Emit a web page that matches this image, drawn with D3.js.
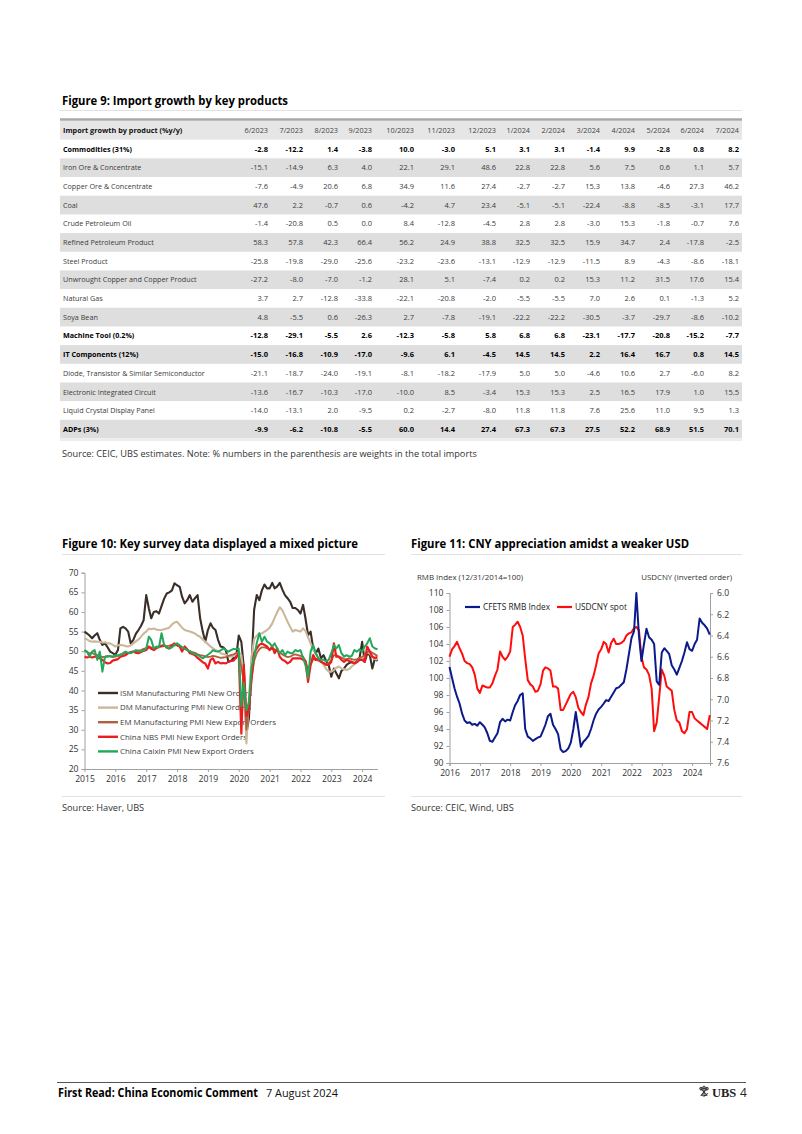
<!DOCTYPE html>
<html><head><meta charset="utf-8">
<script src="https://cdn.jsdelivr.net/npm/d3@7"></script>
<style>
body{margin:0;background:#fff;}
svg{display:block;}
</style>
</head><body>
<svg id="page" width="802" height="1134"></svg>
<script>
// ---------------- Figure 9 data ----------------
const tableHeader = "Import growth by product (%y/y)";
const tableColumns = ["6/2023","7/2023","8/2023","9/2023","10/2023","11/2023","12/2023","1/2024","2/2024","3/2024","4/2024","5/2024","6/2024","7/2024"];
const tableRows = ["Commodities (31%)","Iron Ore & Concentrate","Copper Ore & Concentrate","Coal","Crude Petroleum Oil","Refined Petroleum Product","Steel Product","Unwrought Copper and Copper Product","Natural Gas","Soya Bean","Machine Tool (0.2%)","IT Components (12%)","Diode, Transistor & Similar Semiconductor","Electronic Integrated Circuit","Liquid Crystal Display Panel","ADPs (3%)"];
const boldRows = ["Commodities (31%)","Machine Tool (0.2%)","IT Components (12%)","ADPs (3%)"];
const commodities = [-2.8,-12.2,1.4,-3.8,10.0,-3.0,5.1,3.1,3.1,-1.4,9.9,-2.8,0.8,8.2];
const ironOre = [-15.1,-14.9,6.3,4.0,22.1,29.1,48.6,22.8,22.8,5.6,7.5,0.6,1.1,5.7];
const copperOre = [-7.6,-4.9,20.6,6.8,34.9,11.6,27.4,-2.7,-2.7,15.3,13.8,-4.6,27.3,46.2];
const coal = [47.6,2.2,-0.7,0.6,-4.2,4.7,23.4,-5.1,-5.1,-22.4,-8.8,-8.5,-3.1,17.7];
const crudeOil = [-1.4,-20.8,0.5,0.0,8.4,-12.8,-4.5,2.8,2.8,-3.0,15.3,-1.8,-0.7,7.6];
const refinedOil = [58.3,57.8,42.3,66.4,56.2,24.9,38.8,32.5,32.5,15.9,34.7,2.4,-17.8,-2.5];
const steel = [-25.8,-19.8,-29.0,-25.6,-23.2,-23.6,-13.1,-12.9,-12.9,-11.5,8.9,-4.3,-8.6,-18.1];
const unwroughtCopper = [-27.2,-8.0,-7.0,-1.2,28.1,5.1,-7.4,0.2,0.2,15.3,11.2,31.5,17.6,15.4];
const naturalGas = [3.7,2.7,-12.8,-33.8,-22.1,-20.8,-2.0,-5.5,-5.5,7.0,2.6,0.1,-1.3,5.2];
const soyaBean = [4.8,-5.5,0.6,-26.3,2.7,-7.8,-19.1,-22.2,-22.2,-30.5,-3.7,-29.7,-8.6,-10.2];
const machineTool = [-12.8,-29.1,-5.5,2.6,-12.3,-5.8,5.8,6.8,6.8,-23.1,-17.7,-20.8,-15.2,-7.7];
const itComponents = [-15.0,-16.8,-10.9,-17.0,-9.6,6.1,-4.5,14.5,14.5,2.2,16.4,16.7,0.8,14.5];
const diode = [-21.1,-18.7,-24.0,-19.1,-8.1,-18.2,-17.9,5.0,5.0,-4.6,10.6,2.7,-6.0,8.2];
const integratedCircuit = [-13.6,-16.7,-10.3,-17.0,-10.0,8.5,-3.4,15.3,15.3,2.5,16.5,17.9,1.0,15.5];
const lcdPanel = [-14.0,-13.1,2.0,-9.5,0.2,-2.7,-8.0,11.8,11.8,7.6,25.6,11.0,9.5,1.3];
const adps = [-9.9,-6.2,-10.8,-5.5,60.0,14.4,27.4,67.3,67.3,27.5,52.2,68.9,51.5,70.1];

// ---------------- Figure 10 data (monthly, Jan 2015 - Jul 2024) ----------------
const pmiYears = ["2015","2016","2017","2018","2019","2020","2021","2022","2023","2024"];
const pmiLegend = ["ISM Manufacturing PMI New Orders","DM Manufacturing PMI New Orders","EM Manufacturing PMI New Export Orders","China NBS PMI New Export Orders","China Caixin PMI New Export Orders"];
const ismNewOrders = [
 55.0,54.5,54.0,53.3,54.0,54.6,52.9,51.6,52.0,51.0,49.9,49.5,
 49.1,50.3,55.8,56.2,55.8,55.0,52.0,52.9,54.5,55.4,56.5,57.9,
 64.3,60.9,58.4,60.0,60.2,59.6,61.5,63.4,64.7,65.0,65.5,67.3,
 66.8,66.4,63.9,62.2,63.0,64.3,62.6,63.5,64.3,58.4,55.0,52.4,
 55.4,57.1,56.0,55.4,52.9,51.2,51.0,50.3,47.3,47.5,48.3,48.3,
 54.0,52.4,46.0,29.0,33.0,46.5,60.5,64.3,63.0,65.5,67.0,66.0,
 66.0,67.4,66.0,66.5,67.4,65.7,64.3,63.5,62.6,61.0,61.0,60.5,
 59.6,61.8,58.4,54.1,55.0,50.7,49.4,50.7,48.2,49.0,47.5,46.5,
 43.5,45.6,44.4,43.1,45.0,45.6,46.5,47.0,47.3,46.9,47.5,48.2,
 52.4,47.3,49.4,49.0,45.6,48.2,47.5];
const dmNewOrders = [
 53.3,53.0,52.6,52.4,52.5,52.4,52.4,52.2,52.3,52.0,52.0,51.6,
 51.2,51.5,51.6,51.5,51.3,51.2,51.5,52.0,52.5,53.0,53.7,54.5,
 55.0,55.8,55.6,55.8,55.5,55.4,55.4,55.6,55.8,56.0,56.8,57.3,
 57.5,56.7,56.0,55.4,55.2,55.0,54.8,54.5,54.0,53.7,53.0,52.4,
 51.8,51.2,50.8,50.3,50.0,49.5,49.3,49.1,48.8,48.6,48.8,49.3,
 49.8,49.0,44.0,26.5,38.0,48.5,53.0,54.0,54.5,54.5,55.0,55.4,
 56.0,57.1,58.5,60.0,61.2,60.4,59.0,57.5,56.2,55.0,55.4,55.2,
 55.0,55.8,55.2,53.5,52.0,50.3,49.5,48.2,47.5,46.5,45.5,44.8,
 44.8,45.2,45.8,46.1,45.6,45.4,45.2,45.5,46.1,46.7,47.3,47.8,
 48.2,48.8,49.8,49.4,48.6,48.0,47.8];
const emExportOrders = [
 50.0,49.8,49.5,49.6,49.2,49.0,48.8,48.5,48.6,48.8,48.7,48.5,
 48.6,48.8,49.2,49.3,49.5,49.6,49.8,49.9,50.0,50.2,50.3,50.6,
 50.8,51.0,51.0,50.8,50.9,51.0,51.2,51.3,51.3,51.4,51.6,51.5,
 51.5,51.2,51.0,50.6,50.3,50.0,49.8,49.6,49.2,49.0,48.9,48.7,
 48.5,48.6,48.8,48.7,48.5,48.3,48.4,48.5,48.8,49.0,49.2,49.5,
 49.6,46.0,42.0,30.0,36.0,43.0,47.5,49.5,50.5,51.0,51.0,50.8,
 50.5,50.6,50.5,50.0,49.6,49.2,48.8,48.5,48.6,49.0,49.2,49.0,
 48.8,48.6,47.5,45.5,46.5,48.0,47.8,47.6,47.3,47.0,46.8,47.0,
 47.6,49.0,49.0,48.6,48.4,48.0,48.0,48.2,48.0,47.8,48.0,48.3,
 48.6,49.0,49.8,50.0,49.6,49.2,48.8];
const nbsExportOrders = [
 48.6,48.4,48.6,48.4,48.6,48.6,48.2,47.8,47.2,46.9,47.0,47.6,
 47.8,48.0,48.6,48.8,49.0,49.5,49.7,49.9,49.6,49.5,49.8,50.1,
 50.3,51.2,50.6,50.3,50.8,51.2,51.4,51.6,50.9,50.7,51.5,52.0,
 51.6,51.2,49.9,51.2,50.5,49.5,49.3,49.0,48.3,47.8,47.2,46.9,
 45.6,47.8,48.2,46.9,47.3,46.9,47.0,46.9,47.3,47.5,47.6,48.4,
 49.4,29.0,46.5,33.5,35.5,43.0,49.5,50.7,51.6,52.0,51.6,51.2,
 50.3,51.2,49.5,50.7,48.6,47.8,47.5,46.9,47.3,48.2,48.2,48.2,
 48.2,47.8,47.5,42.2,46.5,49.0,47.8,48.2,47.3,47.0,46.5,46.5,
 47.3,52.0,48.6,48.6,47.8,47.3,47.8,47.5,47.3,46.9,47.2,47.8,
 47.8,47.3,51.2,49.9,48.6,48.3,48.5];
const caixinExportOrders = [
 50.3,49.9,48.6,49.9,50.3,47.8,49.9,44.8,48.6,48.6,48.8,48.6,
 49.0,49.0,49.0,49.5,49.9,49.6,49.5,49.8,50.3,50.0,49.9,50.2,
 50.7,53.7,52.9,50.7,51.2,51.0,54.6,51.6,51.0,50.7,51.0,51.6,
 52.0,51.5,51.0,50.7,50.3,50.0,49.5,49.3,49.1,48.6,48.2,48.6,
 49.1,49.6,50.3,50.0,49.9,50.2,50.7,50.3,49.9,50.3,50.6,50.5,
 50.7,36.0,42.0,35.0,37.0,46.0,48.5,52.0,54.6,52.4,53.7,52.5,
 52.0,51.2,52.0,50.7,49.5,50.3,49.0,49.9,49.5,49.5,50.3,50.0,
 50.3,48.2,46.5,43.2,49.9,51.6,49.5,48.2,47.8,47.8,47.5,47.8,
 49.5,51.6,50.7,51.6,49.5,48.6,49.0,48.6,48.8,50.3,49.9,50.5,
 49.9,51.2,52.0,53.3,51.2,50.7,50.5];

// ---------------- Figure 11 data (monthly, Jan 2016 - Aug 2024) ----------------
const fxYears = ["2016","2017","2018","2019","2020","2021","2022","2023","2024"];
const fxLegend = ["CFETS RMB Index","USDCNY spot"];
const cfetsIndex = [
 101.3,100.0,98.8,97.8,97.0,95.8,95.0,94.7,94.8,94.5,94.6,94.4,
 94.8,94.5,94.2,93.5,92.6,92.5,93.0,93.5,94.8,95.2,94.9,95.1,
 95.0,96.0,96.8,97.3,98.0,98.2,94.0,93.1,92.9,92.6,92.8,93.0,
 93.1,93.8,94.5,95.5,95.8,94.5,94.0,93.4,91.6,91.3,91.4,91.7,
 92.4,94.0,96.0,94.0,91.9,92.5,92.8,93.2,94.0,95.0,95.8,96.3,
 96.6,97.0,97.4,97.3,97.8,98.3,98.8,98.9,99.2,99.5,101.0,102.8,
 104.7,105.5,110.0,105.0,102.0,104.0,105.8,104.8,104.5,104.0,99.6,99.2,
 103.0,103.5,103.2,102.8,101.5,101.0,100.4,101.2,102.0,103.0,104.2,103.4,
 103.2,104.0,104.5,107.0,106.5,106.2,105.8,105.1];
const usdcnySpot = [
 6.60,6.53,6.50,6.46,6.52,6.57,6.64,6.66,6.67,6.70,6.77,6.90,
 6.94,6.87,6.88,6.89,6.89,6.85,6.78,6.72,6.55,6.60,6.63,6.60,
 6.55,6.32,6.30,6.27,6.32,6.40,6.62,6.82,6.86,6.88,6.93,6.92,
 6.86,6.73,6.70,6.71,6.73,6.88,6.88,6.90,7.10,7.10,7.05,7.00,
 6.95,6.93,6.98,7.08,7.12,7.15,7.05,6.98,6.85,6.78,6.68,6.57,
 6.53,6.46,6.48,6.56,6.47,6.43,6.48,6.48,6.47,6.45,6.40,6.38,
 6.37,6.33,6.32,6.35,6.60,6.70,6.72,6.77,6.90,7.30,7.22,6.98,
 6.72,6.78,6.88,6.90,6.92,7.10,7.20,7.22,7.30,7.32,7.28,7.12,
 7.12,7.18,7.20,7.22,7.24,7.26,7.28,7.15];

// ---------------- drawing ----------------
const FONT = "'Open Sans','Noto Sans',sans-serif";
const svg = d3.select("#page").style("font-family", FONT);
svg.append("rect").attr("width",802).attr("height",1134).attr("fill","#fff");

function title(x, y, txt, w){
  svg.append("text").attr("x",x).attr("y",y).attr("font-size",12.5).attr("font-weight","bold")
    .attr("fill","#000").attr("textLength",w).attr("lengthAdjust","spacingAndGlyphs").text(txt);
}
function hline(x1,x2,y,color,wd){
  svg.append("line").attr("x1",x1).attr("x2",x2).attr("y1",y).attr("y2",y)
    .attr("stroke",color).attr("stroke-width",wd||1);
}
function source(x, y, txt){
  svg.append("text").attr("x",x).attr("y",y).attr("font-size",9.2).attr("fill","#333").text(txt);
}

// ===== Figure 9 table =====
title(62, 105, "Figure 9: Import growth by key products", 226);
hline(60, 742, 110.5, "#e2e2e2");
hline(60, 742, 119.5, "#a8a8a8", 2.5);

const tableValues = [commodities, ironOre, copperOre, coal, crudeOil, refinedOil, steel, unwroughtCopper,
  naturalGas, soyaBean, machineTool, itComponents, diode, integratedCircuit, lcdPanel, adps];
const colX = d3.scaleOrdinal(tableColumns, [268,303,338,372,414,455,496,530,565,600,635,670,704,739]);
const rowY = d3.scaleBand(["header", ...tableRows], [121, 438.5]);
const tbl = svg.append("g");
tbl.append("rect").attr("x",60).attr("width",682).attr("y",rowY("header")).attr("height",rowY.bandwidth()).attr("fill","#e6e6e6");
tableRows.forEach((r,i)=>{
  if (i%2===1) tbl.append("rect").attr("x",60).attr("width",682).attr("y",rowY(r)).attr("height",rowY.bandwidth()).attr("fill","#dedede");
});
const ty = r => rowY(r) + rowY.bandwidth()/2 + 2.7;
tbl.append("text").attr("x",63).attr("y",ty("header")).attr("font-size",7.3).attr("font-weight","bold").attr("fill","#111").text(tableHeader);
tableColumns.forEach(c=>{
  tbl.append("text").attr("x",colX(c)).attr("y",ty("header")).attr("text-anchor","end").attr("font-size",7.3).attr("fill","#444").text(c);
});
tableRows.forEach((r,i)=>{
  const b = boldRows.includes(r);
  tbl.append("text").attr("x",63).attr("y",ty(r)).attr("font-size",7.2).attr("font-weight",b?"bold":"normal")
    .attr("fill",b?"#000":"#3c3c3c").text(r);
  tableValues[i].forEach((v,j)=>{
    tbl.append("text").attr("x",colX(tableColumns[j])).attr("y",ty(r)).attr("text-anchor","end")
      .attr("font-size",7.5).attr("font-weight",b?"bold":"normal").attr("fill",b?"#000":"#3c3c3c").text(v.toFixed(1));
  });
});
hline(60, 742, 440, "#dcdcdc");
source(62, 457, "Source: CEIC, UBS estimates. Note: % numbers in the parenthesis are weights in the total imports");

// ===== Figure 10 =====
title(62, 548, "Figure 10: Key survey data displayed a mixed picture", 296);
hline(62, 385, 554.5, "#e2e2e2");
hline(62, 385, 796.5, "#e2e2e2");
source(62, 811, "Source: Haver, UBS");

const pmiDates = d3.timeMonth.range(new Date(2015,0,1), new Date(2024,7,1));
const x10 = d3.scaleTime().domain([new Date(2015,0,1), new Date(2024,6,1)]).range([84.5, 377.5]);
const y10 = d3.scaleLinear().domain([20,70]).range([769, 572.7]);
const g10 = svg.append("g");
const yAx10 = g10.append("g").attr("transform","translate(84.5,0)")
  .call(d3.axisLeft(y10).tickValues(d3.range(20,71,5)).tickSize(3).tickPadding(3));
const xAx10 = g10.append("g").attr("transform","translate(0,769)")
  .call(d3.axisBottom(x10).tickValues(pmiYears.map(s=>new Date(+s,0,1))).tickFormat(d3.timeFormat("%Y")).tickSize(3).tickPadding(4));
[yAx10,xAx10].forEach(a=>{
  a.selectAll("path,line").attr("stroke","#a0a0a0");
  a.selectAll("text").attr("font-size",8.6).attr("fill","#333").attr("font-family",FONT);
});
yAx10.selectAll(".tick text").attr("dy","0.3em");
xAx10.select(".domain").attr("d","M84.5,0.5H378");

const pmiSeries = [ismNewOrders, dmNewOrders, emExportOrders, nbsExportOrders, caixinExportOrders];
const pmiColors = ["#3a2e28","#cbb89b","#b0603e","#ee1c1c","#23a75a"];
const pmiWidths = [2.1,2.1,1.8,2.2,2.0];
const line10 = d3.line().x((d,i)=>x10(pmiDates[i])).y(d=>y10(d));
const leg10 = g10.append("g");
pmiLegend.forEach((t,i)=>{
  const yy = 693 + i*14.6;
  leg10.append("line").attr("x1",98).attr("x2",118).attr("y1",yy).attr("y2",yy)
    .attr("stroke",pmiColors[i]).attr("stroke-width",2.4);
  leg10.append("text").attr("x",120).attr("y",yy+2.8).attr("font-size",7.9).attr("fill","#404040").text(t);
});
pmiSeries.forEach((s,i)=>{
  g10.append("path").attr("d",line10(s)).attr("fill","none").attr("stroke",pmiColors[i])
    .attr("stroke-width",pmiWidths[i]).attr("stroke-linejoin","round");
});

// ===== Figure 11 =====
title(411, 548, "Figure 11: CNY appreciation amidst a weaker USD", 278);
hline(411, 742, 554.5, "#e2e2e2");
hline(411, 742, 796.5, "#e2e2e2");
source(411, 811, "Source: CEIC, Wind, UBS");

const fxDates = d3.timeMonth.range(new Date(2016,0,1), new Date(2024,8,1));
const x11 = d3.scaleTime().domain([new Date(2016,0,1), new Date(2024,7,4)]).range([449.5, 710]);
const yL = d3.scaleLinear().domain([90,110]).range([763, 593]);
const yR = d3.scaleLinear().domain([6.0,7.6]).range([593, 763]);
const g11 = svg.append("g");
g11.append("text").attr("x",417).attr("y",580).attr("font-size",7.9).attr("fill","#333").text("RMB Index (12/31/2014=100)");
g11.append("text").attr("x",732).attr("y",580).attr("text-anchor","end").attr("font-size",7.9).attr("fill","#333").text("USDCNY (inverted order)");
const axL = g11.append("g").attr("transform","translate(449.5,0)")
  .call(d3.axisLeft(yL).tickValues(d3.range(90,111,2)).tickSize(3).tickPadding(3));
const axR = g11.append("g").attr("transform","translate(710,0)")
  .call(d3.axisRight(yR).tickValues(d3.range(6.0,7.61,0.2)).tickFormat(d3.format(".1f")).tickSize(3).tickPadding(4));
const axB = g11.append("g").attr("transform","translate(0,763)")
  .call(d3.axisBottom(x11).tickValues(fxYears.map(s=>new Date(+s,0,1))).tickFormat(d3.timeFormat("%Y")).tickSize(3).tickPadding(4));
[axL,axR,axB].forEach(a=>{
  a.selectAll("path,line").attr("stroke","#a0a0a0");
  a.selectAll("text").attr("font-size",8.6).attr("fill","#333").attr("font-family",FONT);
});
const lineL = d3.line().x((d,i)=>x11(fxDates[i])).y(d=>yL(d));
const lineR = d3.line().x((d,i)=>x11(fxDates[i])).y(d=>yR(d));
g11.append("path").attr("d",lineR(usdcnySpot)).attr("fill","none").attr("stroke","#ff0d0d").attr("stroke-width",2).attr("stroke-linejoin","round");
g11.append("path").attr("d",lineL(cfetsIndex)).attr("fill","none").attr("stroke","#0b1a8a").attr("stroke-width",2).attr("stroke-linejoin","round");
const legCols = ["#0b1a8a","#ff0d0d"];
const legX = [465, 557];
fxLegend.forEach((t,i)=>{
  g11.append("line").attr("x1",legX[i]).attr("x2",legX[i]+15).attr("y1",607).attr("y2",607).attr("stroke",legCols[i]).attr("stroke-width",2.2);
  g11.append("text").attr("x",legX[i]+18).attr("y",610).attr("font-size",8.3).attr("fill","#222").text(t);
});

// ===== Footer =====
hline(57, 746, 1082.5, "#555", 1);
svg.append("text").attr("x",58).attr("y",1097).attr("font-size",11.6).attr("font-weight","bold").attr("fill","#000")
  .attr("textLength",200).attr("lengthAdjust","spacingAndGlyphs").text("First Read: China Economic Comment");
svg.append("text").attr("x",266).attr("y",1097).attr("font-size",11.6).attr("fill","#111")
  .attr("textLength",72).attr("lengthAdjust","spacingAndGlyphs").text("7 August 2024");
const logo = svg.append("g").attr("transform","translate(704,1092)").attr("stroke","#333").attr("stroke-width",1).attr("fill","none");
[-40,0,40].forEach(a=>{
  const g = logo.append("g").attr("transform",`rotate(${a})`);
  g.append("line").attr("x1",0).attr("y1",-5).attr("x2",0).attr("y2",5);
  g.append("circle").attr("cx",0).attr("cy",-4.5).attr("r",1.3);
  g.append("line").attr("x1",0).attr("y1",3.5).attr("x2",2).attr("y2",3.5);
});
svg.append("text").attr("x",712).attr("y",1097).attr("font-family","'Liberation Serif',serif").attr("font-size",12.5)
  .attr("font-weight","bold").attr("fill","#222").text("UBS");
svg.append("text").attr("x",740).attr("y",1097).attr("font-size",12).attr("fill","#222").text("4");
</script>
</body></html>
